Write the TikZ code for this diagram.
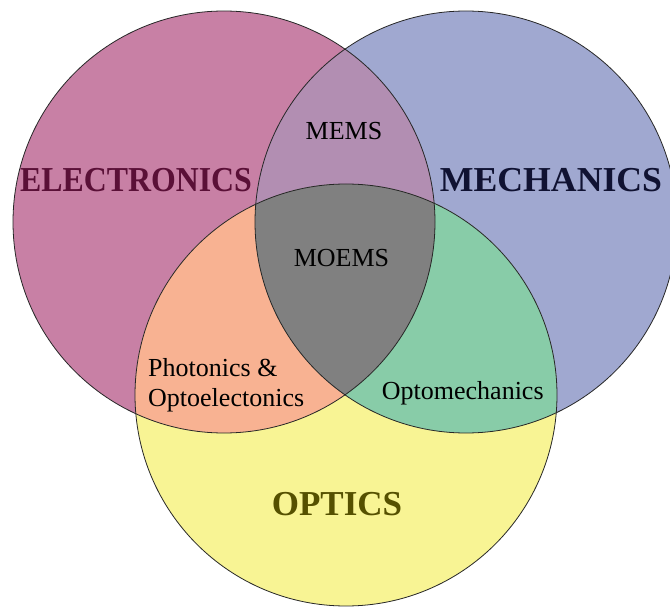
\documentclass[tikz,border=0pt]{standalone}
\usepackage{fontspec}
\setmainfont{Liberation Serif}
\definecolor{ecol}{RGB}{200,128,165}
\definecolor{mcol}{RGB}{160,168,208}
\definecolor{ocol}{RGB}{248,244,148}
\definecolor{emcol}{RGB}{178,142,178}
\definecolor{eocol}{RGB}{248,178,146}
\definecolor{mocol}{RGB}{136,204,168}
\definecolor{allcol}{RGB}{128,128,128}
\definecolor{etxt}{RGB}{90,16,55}
\definecolor{mtxt}{RGB}{16,18,50}
\definecolor{otxt}{RGB}{85,80,0}
\tikzset{
  ring/.style={draw=black!85, line width=0.8pt},
  biglabel/.style={inner sep=0pt, anchor=base, font=\fontsize{35}{40}\selectfont\bfseries},
  smalllabel/.style={inner sep=0pt, text=black, font=\fontsize{26}{30}\selectfont},
}
\begin{document}
\begin{tikzpicture}[x=1pt,y=-1pt]
\useasboundingbox (0,0) rectangle (670,607);
\coordinate (E) at (224,222);
\coordinate (M) at (466,222);
\coordinate (O) at (346,395);
\def\R{211pt}
% single-set fills
\fill[ecol] (E) circle[radius=\R];
\fill[mcol] (M) circle[radius=\R];
\fill[ocol] (O) circle[radius=\R];
% pairwise intersections
\begin{scope}
  \clip (E) circle[radius=\R];
  \fill[emcol] (M) circle[radius=\R];
\end{scope}
\begin{scope}
  \clip (E) circle[radius=\R];
  \fill[eocol] (O) circle[radius=\R];
\end{scope}
\begin{scope}
  \clip (M) circle[radius=\R];
  \fill[mocol] (O) circle[radius=\R];
\end{scope}
% triple intersection
\begin{scope}
  \clip (E) circle[radius=\R];
  \clip (M) circle[radius=\R];
  \fill[allcol] (O) circle[radius=\R];
\end{scope}
% outlines
\draw[ring] (E) circle[radius=\R];
\draw[ring] (M) circle[radius=\R];
\draw[ring] (O) circle[radius=\R];
% labels
\node[biglabel, text=etxt] (elec) at (136,191.5) {\scalebox{0.91}[1]{ELECTRONICS}};
\node[biglabel, text=mtxt] (mech) at (551,192) {\scalebox{1.02}[1]{MECHANICS}};
\node[biglabel, text=otxt] (opt) at (337,515) {OPTICS};
\node[smalllabel, anchor=base] (mems) at (344,140) {MEMS};
\node[smalllabel, anchor=base] (moems) at (341.5,266.5) {MOEMS};
\node[smalllabel, anchor=base west, align=left] (photo) at (148,406) {Photonics \&\\Optoelectonics};
\node[smalllabel, anchor=base west] (optomech) at (381.7,399) {Optomechanics};
\end{tikzpicture}
\end{document}
